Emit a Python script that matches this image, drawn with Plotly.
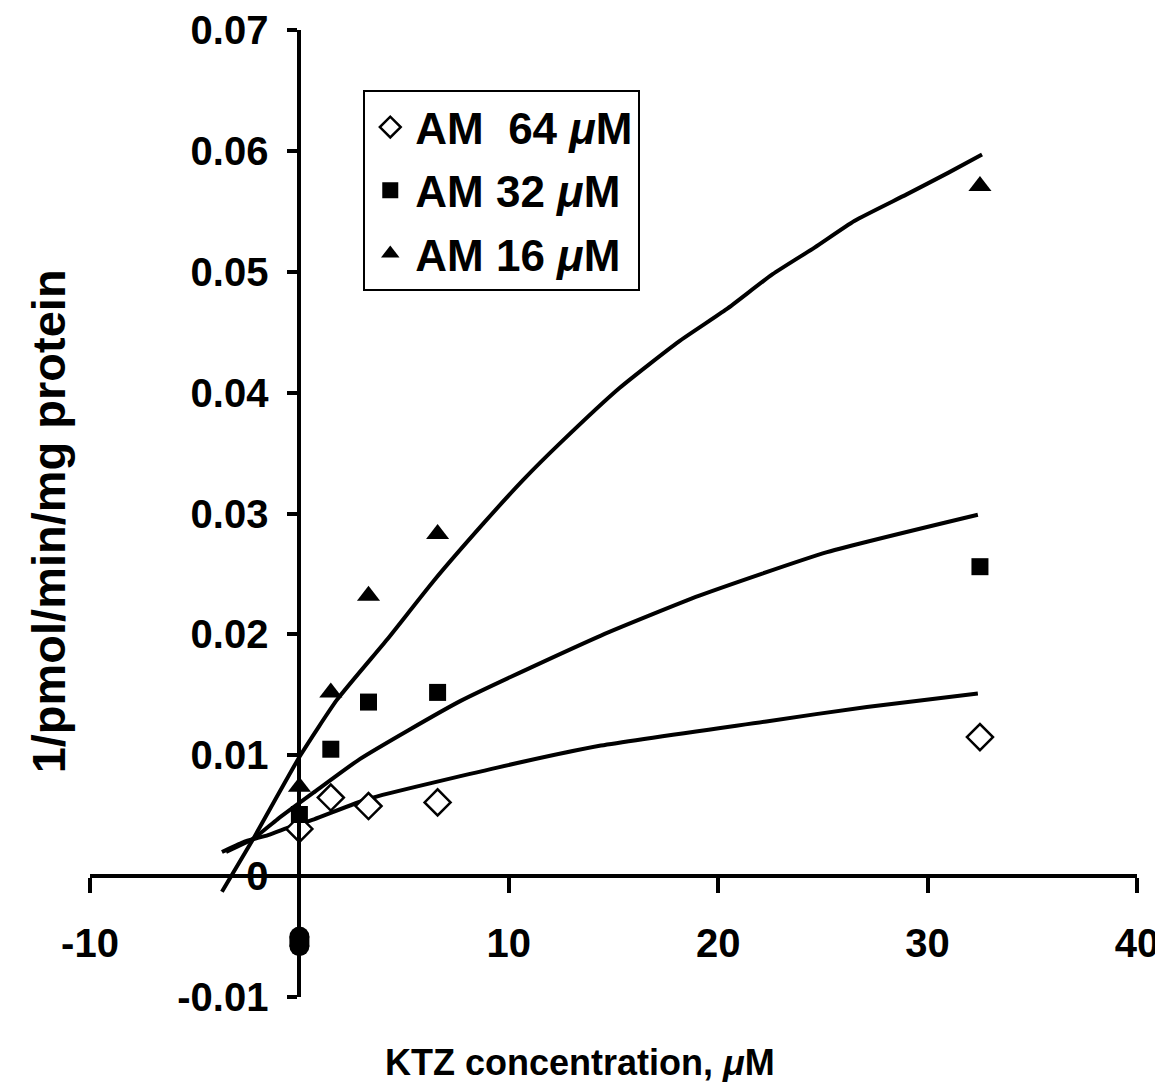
import plotly.graph_objects as go

ktz = [0, 1.5, 3.3, 6.6, 32.5]
am64 = [0.0039, 0.0065, 0.0058, 0.0061, 0.0115]
am32 = [0.0051, 0.0105, 0.0144, 0.0152, 0.0256]
am16 = [0.0074, 0.0152, 0.0232, 0.0283, 0.0571]

# fitted curves
fit64_x = [-3.7, -2.7, -1.5, -0.4, 0.7, 3.3, 9.5, 14.4, 22.3, 27.1, 32.4]
fit64_y = [0.0020, 0.0028, 0.0034, 0.0041, 0.0047, 0.0064, 0.0090, 0.0108, 0.0128, 0.0140, 0.0151]
fit32_x = [-3.5, -2.2, -1.05, 0.67, 2.9, 7.7, 14.4, 19.1, 25.2, 32.4]
fit32_y = [0.0020, 0.0031, 0.0047, 0.0069, 0.0097, 0.0145, 0.0199, 0.0232, 0.0268, 0.0299]
fit16_x = [-3.7, -2.2, 0.05, 1.8, 4.2, 6.4, 8.8, 10.7, 12.5, 15.3, 18.1, 20.4, 22.6,
           24.6, 26.5, 29.0, 31.0, 32.6]
fit16_y = [-0.0013, 0.0031, 0.0100, 0.0146, 0.0196, 0.0244, 0.0292, 0.0328, 0.0359, 0.0404,
           0.0442, 0.0469, 0.0498, 0.0520, 0.0542, 0.0564, 0.0582, 0.0597]

# the smudged "0" under the x axis
blob_x = [0, 0]
blob_y = [-0.0050, -0.0058]

x_ticks = [-10, 0, 10, 20, 30, 40]
x_labels = ["-10", "", "10", "20", "30", "40"]
y_ticks = [-0.01, 0, 0.01, 0.02, 0.03, 0.04, 0.05, 0.06, 0.07]
y_labels = ["-0.01", "0", "0.01", "0.02", "0.03", "0.04", "0.05", "0.06", "0.07"]

FONT = "Liberation Sans, Arial, sans-serif"

fig = go.Figure()

for fx, fy in [(fit64_x, fit64_y), (fit32_x, fit32_y), (fit16_x, fit16_y)]:
    fig.add_trace(go.Scatter(x=fx, y=fy, mode="lines", showlegend=False,
                             line=dict(color="black", width=4, shape="spline", smoothing=0.5),
                             hoverinfo="skip"))

fig.add_trace(go.Scatter(x=ktz, y=am64, mode="markers", name="AM\u00a0 64 <i>\u03bc</i>M",
                         legendgroup="a",
                         marker=dict(symbol="diamond", size=20, color="white",
                                     line=dict(color="black", width=2.5))))
fig.add_trace(go.Scatter(x=ktz, y=am32, mode="markers", name="AM 32 <i>\u03bc</i>M",
                         legendgroup="b",
                         marker=dict(symbol="square", size=17, color="black")))
fig.add_trace(go.Scatter(x=ktz, y=am16, mode="markers", name="AM 16 <i>\u03bc</i>M",
                         legendgroup="c",
                         marker=dict(symbol="triangle-up", size=20, color="black")))

fig.add_trace(go.Scatter(x=blob_x, y=blob_y, mode="lines+markers", showlegend=False,
                         line=dict(color="black", width=20),
                         marker=dict(symbol="circle", size=20, color="black"),
                         hoverinfo="skip"))

# page body adds 8px, so the figure is trimmed to fit the window without scrollbars
fig.update_layout(
    width=1155, height=1082,
    margin=dict(l=82, r=26, t=22, b=93),
    plot_bgcolor="white", paper_bgcolor="white",
    font=dict(family=FONT, color="black"),
    xaxis=dict(range=[-10, 40], tickvals=x_ticks, ticktext=x_labels, automargin=False,
               anchor="free", position=0.125, showline=True, linewidth=4, linecolor="black",
               ticks="outside", ticklen=15, tickwidth=4, tickcolor="black",
               ticklabelstandoff=16,
               tickfont=dict(size=40, weight="bold", family=FONT),
               showgrid=False, zeroline=False),
    yaxis=dict(range=[-0.01, 0.07], tickvals=y_ticks, ticktext=y_labels, automargin=False,
               anchor="free", position=0.2, showline=True, linewidth=4, linecolor="black",
               ticks="outside", ticklen=10, tickwidth=4, tickcolor="black",
               ticklabelstandoff=11,
               tickfont=dict(size=40, weight="bold", family=FONT),
               showgrid=False, zeroline=False),
    legend=dict(x=0.261, y=0.938, xanchor="left", yanchor="top",
                bordercolor="black", borderwidth=2, bgcolor="white",
                font=dict(size=44, weight="bold", family=FONT),
                itemwidth=40, tracegroupgap=3),
    annotations=[
        dict(text="<b>KTZ concentration, <i>\u03bc</i>M</b>", xref="paper", yref="paper",
             x=0.468, y=-0.068, xanchor="center", yanchor="middle", showarrow=False,
             font=dict(size=36, family=FONT)),
        dict(text="<b>1/pmol/min/mg protein</b>", xref="paper", yref="paper",
             x=-0.04, y=0.492, xanchor="center", yanchor="middle", showarrow=False,
             textangle=-90, font=dict(size=47, family=FONT)),
    ],
)

fig.write_html("out.html")
